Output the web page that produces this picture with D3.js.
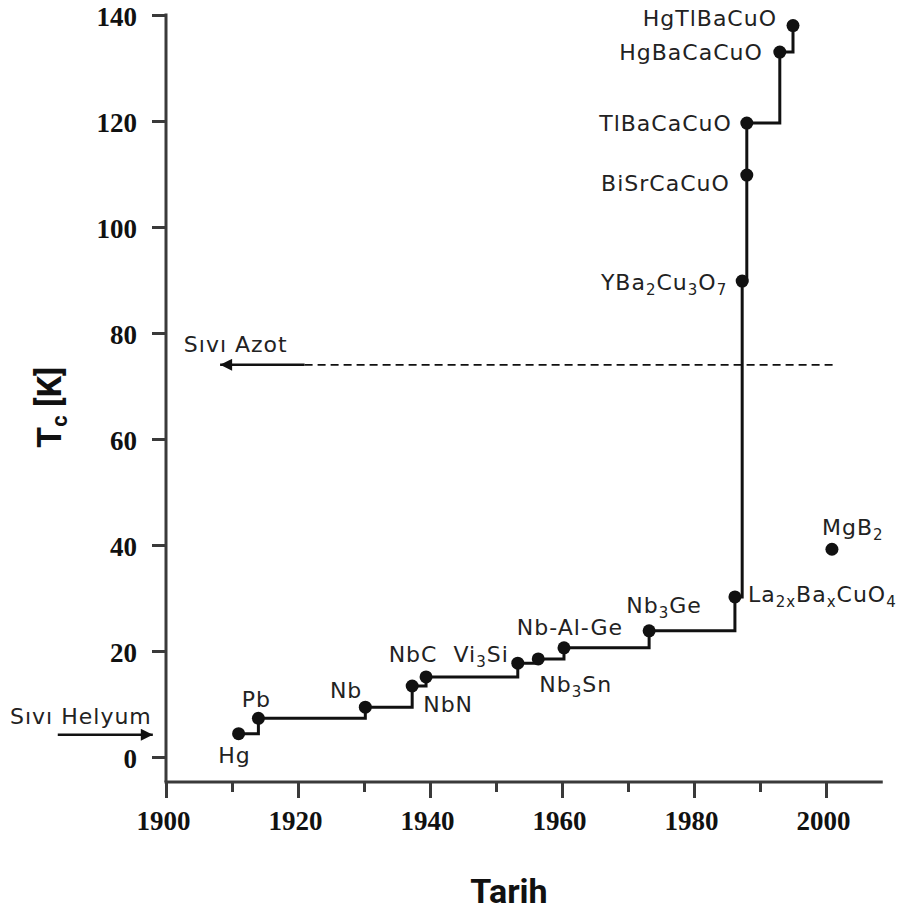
<!DOCTYPE html>
<html>
<head>
<meta charset="utf-8">
<script src="https://cdn.jsdelivr.net/npm/d3@7"></script>
<style>
  body { margin: 0; background: #fff; }
  svg { display: block; }
</style>
</head>
<body>
<script>
// Superconductor discovery timeline (Tc vs year)
const materials = ["Hg", "Pb", "Nb", "NbN", "NbC", "Vi3Si", "Nb3Sn", "Nb-Al-Ge", "Nb3Ge",
  "La2xBaxCuO4", "YBa2Cu3O7", "BiSrCaCuO", "TlBaCaCuO", "HgBaCaCuO", "HgTlBaCuO"];
const years = [1911, 1914, 1930.2, 1937.3, 1939.4, 1953.3, 1956.4, 1960.3, 1973.2,
  1986.2, 1987.3, 1988, 1988, 1993, 1995];
const tcValues = [4.4, 7.3, 9.4, 13.4, 15.1, 17.7, 18.5, 20.6, 23.8,
  30.2, 89.8, 109.8, 119.6, 133, 138];

// stand-alone point (not on the record line)
const extraName = "MgB2";
const extraYear = 2000.9;
const extraTc = 39.2;

// reference temperatures
const heliumTc = 4.2;
const nitrogenTc = 74;

const xTicks = [1900, 1920, 1940, 1960, 1980, 2000];
const xMinorTicks = [1910, 1930, 1950, 1970, 1990];
const yTicks = [0, 20, 40, 60, 80, 100, 120, 140];

// label placement next to each dot: [dx, dy, anchor]
const labelPos = {
  "Hg": [-4, 29, "middle"],
  "Pb": [-2, -11, "middle"],
  "Nb": [-3, -9, "end"],
  "NbN": [11, 26, "start"],
  "NbC": [-13, -15, "middle"],
  "Vi3Si": [-9, -1, "end"],
  "Nb3Sn": [1, 33, "start"],
  "Nb-Al-Ge": [6, -13, "middle"],
  "Nb3Ge": [15, -18, "middle"],
  "La2xBaxCuO4": [13, 5, "start"],
  "YBa2Cu3O7": [-15, 9, "end"],
  "BiSrCaCuO": [-17, 16, "end"],
  "TlBaCaCuO": [-15, 8, "end"],
  "HgBaCaCuO": [-17, 8, "end"],
  "HgTlBaCuO": [-16, 0, "end"],
  "MgB2": [-10, -14, "start"]
};

// text pieces, sub = subscript
const richText = {
  "Vi3Si": [["Vi"], ["3", 1], ["Si"]],
  "Nb3Sn": [["Nb"], ["3", 1], ["Sn"]],
  "Nb3Ge": [["Nb"], ["3", 1], ["Ge"]],
  "La2xBaxCuO4": [["La"], ["2x", 1], ["Ba"], ["x", 1], ["CuO"], ["4", 1]],
  "YBa2Cu3O7": [["YBa"], ["2", 1], ["Cu"], ["3", 1], ["O"], ["7", 1]],
  "MgB2": [["MgB"], ["2", 1]]
};

const W = 902, H = 912;
const axisY = 782;
const labelFont = "'DejaVu Sans', sans-serif";
const tickFont = "'Liberation Serif', serif";

const x = d3.scaleLinear().domain([1900, 2000]).range([166, 826]);
const y = d3.scaleLinear().domain([0, 140]).range([757, 15]);

const svg = d3.select("body").append("svg")
  .attr("width", W)
  .attr("height", H);

const defs = svg.append("defs");
defs.append("marker")
  .attr("id", "arrow")
  .attr("viewBox", "0 0 10 10")
  .attr("refX", 10)
  .attr("refY", 5)
  .attr("markerUnits", "userSpaceOnUse")
  .attr("markerWidth", 15)
  .attr("markerHeight", 12)
  .attr("orient", "auto")
  .append("path")
  .attr("d", "M0,0 L10,5 L0,10 Z")
  .attr("fill", "#111");

// axes
const axisColor = "#3a3a3a";

const xMinor = svg.append("g")
  .attr("transform", `translate(0,${axisY})`)
  .call(d3.axisBottom(x).tickValues(xMinorTicks).tickSize(10).tickFormat(""));
const xMajor = svg.append("g")
  .attr("transform", `translate(0,${axisY})`)
  .call(d3.axisBottom(x).tickValues(xTicks).tickSize(16).tickFormat(d3.format("d")));
[xMinor, xMajor].forEach(g => {
  g.select(".domain").remove();
  g.selectAll("line").attr("stroke", axisColor).attr("stroke-width", 3);
});
xMajor.selectAll("text")
  .attr("y", 48)
  .attr("dy", 0)
  .attr("dx", -3)
  .attr("fill", "#111")
  .attr("font-family", tickFont)
  .attr("font-weight", "bold")
  .attr("font-size", 27);

svg.append("line")
  .attr("x1", x(1900) - 1.5)
  .attr("x2", x(2008.6))
  .attr("y1", axisY)
  .attr("y2", axisY)
  .attr("stroke", axisColor)
  .attr("stroke-width", 3);

const yAxis = svg.append("g")
  .attr("transform", `translate(${x(1900)},0)`)
  .call(d3.axisLeft(y).tickValues(yTicks).tickSize(14).tickPadding(15));
yAxis.select(".domain").remove();
yAxis.selectAll("line").attr("stroke", axisColor).attr("stroke-width", 3);
yAxis.selectAll("text")
  .attr("dy", "0.38em")
  .attr("fill", "#111")
  .attr("font-family", tickFont)
  .attr("font-weight", "bold")
  .attr("font-size", 27);

svg.append("line")
  .attr("x1", x(1900))
  .attr("x2", x(1900))
  .attr("y1", y(140) - 1.5)
  .attr("y2", axisY)
  .attr("stroke", axisColor)
  .attr("stroke-width", 3);

// axis titles
svg.append("text")
  .attr("x", 509)
  .attr("y", 903)
  .attr("text-anchor", "middle")
  .attr("font-family", "Roboto, sans-serif")
  .attr("font-weight", "bold")
  .attr("font-size", 34)
  .attr("fill", "#111")
  .text("Tarih");

const yTitle = svg.append("text")
  .attr("transform", `translate(61,${y(66)}) rotate(-90)`)
  .attr("text-anchor", "middle")
  .attr("font-family", "Roboto, sans-serif")
  .attr("font-weight", "bold")
  .attr("font-size", 34)
  .attr("fill", "#111");
yTitle.append("tspan").text("T");
yTitle.append("tspan").attr("font-size", 22).attr("dy", 6).text("c");
yTitle.append("tspan").attr("dy", -6).text(" [K]");

// record line
const points = years.map((yr, i) => ({ name: materials[i], year: yr, tc: tcValues[i] }));

const line = d3.line()
  .x(d => x(d.year))
  .y(d => y(d.tc))
  .curve(d3.curveStepAfter);

svg.append("path")
  .datum(points)
  .attr("fill", "none")
  .attr("stroke", "#111")
  .attr("stroke-width", 3)
  .attr("d", line);

const allPoints = points.concat([{ name: extraName, year: extraYear, tc: extraTc }]);

svg.append("g")
  .selectAll("circle")
  .data(allPoints)
  .join("circle")
  .attr("cx", d => x(d.year))
  .attr("cy", d => y(d.tc))
  .attr("r", 6.5)
  .attr("fill", "#111");

// labels
const labels = svg.append("g")
  .attr("font-family", labelFont)
  .attr("font-size", 22)
  .attr("letter-spacing", 1)
  .attr("fill", "#222");

allPoints.forEach(d => {
  const [dx, dy, anchor] = labelPos[d.name];
  const t = labels.append("text")
    .attr("x", x(d.year) + dx)
    .attr("y", y(d.tc) + dy)
    .attr("text-anchor", anchor);
  const parts = richText[d.name] || [[d.name]];
  let down = false;
  parts.forEach(([s, sub]) => {
    const ts = t.append("tspan").text(s);
    if (sub && !down) { ts.attr("font-size", 15).attr("dy", 5); down = true; }
    else if (sub) { ts.attr("font-size", 15); }
    else if (down) { ts.attr("dy", -5); down = false; }
  });
});

// liquid helium marker
svg.append("text")
  .attr("x", 10)
  .attr("y", y(heliumTc) - 11)
  .attr("font-family", labelFont)
  .attr("font-size", 22)
  .attr("letter-spacing", 1)
  .attr("fill", "#222")
  .text("Sıvı Helyum");

svg.append("line")
  .attr("x1", x(1883.6))
  .attr("x2", x(1898))
  .attr("y1", y(heliumTc))
  .attr("y2", y(heliumTc))
  .attr("stroke", "#111")
  .attr("stroke-width", 2.5)
  .attr("marker-end", "url(#arrow)");

// liquid nitrogen marker
svg.append("text")
  .attr("x", x(1902.7))
  .attr("y", y(nitrogenTc) - 13)
  .attr("font-family", labelFont)
  .attr("font-size", 22)
  .attr("letter-spacing", 1)
  .attr("fill", "#222")
  .text("Sıvı Azot");

svg.append("line")
  .attr("x1", x(1921))
  .attr("x2", x(1908.2))
  .attr("y1", y(nitrogenTc))
  .attr("y2", y(nitrogenTc))
  .attr("stroke", "#111")
  .attr("stroke-width", 2.5)
  .attr("marker-end", "url(#arrow)");

svg.append("line")
  .attr("x1", x(1921))
  .attr("x2", x(2001))
  .attr("y1", y(nitrogenTc))
  .attr("y2", y(nitrogenTc))
  .attr("stroke", "#111")
  .attr("stroke-width", 1.8)
  .attr("stroke-dasharray", "8,5");
</script>
</body>
</html>
